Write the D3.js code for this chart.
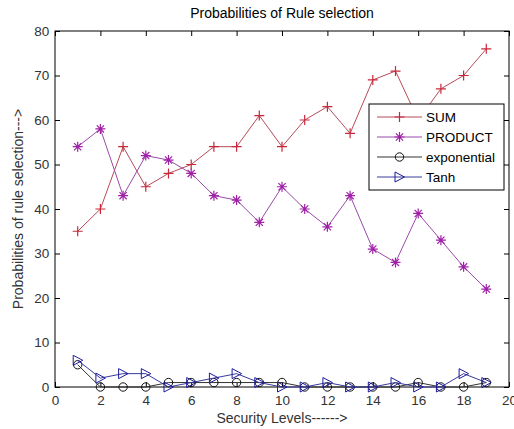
<!DOCTYPE html>
<html><head><meta charset="utf-8">
<script src="https://cdn.jsdelivr.net/npm/d3@7"></script>
<style>body{margin:0;background:#fff;} text{font-family:"Liberation Sans",Arial,sans-serif;}</style>
</head><body>
<svg id="c" width="514" height="429"></svg>
<script>
const levels = [1,2,3,4,5,6,7,8,9,10,11,12,13,14,15,16,17,18,19];
const sumVals = [35,40,54,45,48,50,54,54,61,54,60,63,57,69,71,60,67,70,76];
const productVals = [54,58,43,52,51,48,43,42,37,45,40,36,43,31,28,39,33,27,22];
const expVals = [5,0,0,0,1,1,1,1,1,1,0,0,0,0,0,1,0,0,1];
const tanhVals = [6,2,3,3,0,1,2,3,1,0,0,1,0,0,1,0,0,3,1];
const xTicks = [0,2,4,6,8,10,12,14,16,18,20];
const yTicks = [0,10,20,30,40,50,60,70,80];
const seriesNames = ["SUM","PRODUCT","exponential","Tanh"];

const svg = d3.select("#c");
const L=55,R=509,T=31,B=387;
const x = d3.scaleLinear().domain([0,20]).range([L,R]);
const y = d3.scaleLinear().domain([0,80]).range([B,T]);
const txt = "#333";
const fs = 13.5;

svg.append("rect").attr("x",L).attr("y",T).attr("width",R-L).attr("height",B-T).attr("fill","#fff").attr("stroke","#000").attr("stroke-width",1);

const tl=5;
const ax = svg.append("g").attr("transform",`translate(0,${B})`).call(d3.axisBottom(x).tickValues(xTicks).tickSize(-tl).tickFormat(d3.format("d")));
ax.select(".domain").remove();
ax.selectAll("text").attr("fill",txt).attr("font-size",fs).attr("dy","1.1em");
const axT = svg.append("g").attr("transform",`translate(0,${T})`).call(d3.axisTop(x).tickValues(xTicks).tickSize(-tl).tickFormat(""));
axT.select(".domain").remove();
const ay = svg.append("g").attr("transform",`translate(${L},0)`).call(d3.axisLeft(y).tickValues(yTicks).tickSize(-tl).tickFormat(d3.format("d")));
ay.select(".domain").remove();
ay.selectAll("text").attr("fill",txt).attr("font-size",fs).attr("dx","-0.2em");
const ayR = svg.append("g").attr("transform",`translate(${R},0)`).call(d3.axisRight(y).tickValues(yTicks).tickSize(-tl).tickFormat(""));
ayR.select(".domain").remove();

const series = [
 {name:seriesNames[0], vals:sumVals, color:"#c8283a", line:"#b84a5a", marker:"plus"},
 {name:seriesNames[1], vals:productVals, color:"#a020a8", line:"#9a4aa8", marker:"star"},
 {name:seriesNames[2], vals:expVals, color:"#111", line:"#333", marker:"circle"},
 {name:seriesNames[3], vals:tanhVals, color:"#1c1c9c", line:"#3a3a9c", marker:"tri"}
];

function drawMarker(g, type, cx, cy, color){
  const s=5;
  if(type==="plus"){
    g.append("path").attr("d",`M${cx-s},${cy}H${cx+s}M${cx},${cy-s}V${cy+s}`).attr("stroke",color).attr("stroke-width",1.2).attr("fill","none");
  } else if(type==="star"){
    const d=s*0.72;
    g.append("path").attr("d",`M${cx-s},${cy}H${cx+s}M${cx},${cy-s}V${cy+s}M${cx-d},${cy-d}L${cx+d},${cy+d}M${cx-d},${cy+d}L${cx+d},${cy-d}`).attr("stroke",color).attr("stroke-width",1.2).attr("fill","none");
  } else if(type==="circle"){
    g.append("circle").attr("cx",cx).attr("cy",cy).attr("r",4.2).attr("stroke",color).attr("stroke-width",1).attr("fill","none");
  } else if(type==="tri"){
    g.append("path").attr("d",`M${cx-4.5},${cy-5}L${cx+5},${cy}L${cx-4.5},${cy+5}Z`).attr("stroke",color).attr("stroke-width",1).attr("fill","none");
  }
}

const line = d3.line().x((d,i)=>x(levels[i])).y(d=>y(d));
series.forEach(s=>{
  svg.append("path").attr("d",line(s.vals)).attr("fill","none").attr("stroke",s.line).attr("stroke-width",1);
  const g=svg.append("g");
  s.vals.forEach((v,i)=>drawMarker(g,s.marker,x(levels[i]),y(v),s.color));
});

// legend
const lg = svg.append("g");
lg.append("rect").attr("x",369).attr("y",104).attr("width",135).attr("height",86).attr("fill","#fff").attr("stroke","#000").attr("stroke-width",1);
series.forEach((s,i)=>{
  const yy=117+i*20;
  lg.append("line").attr("x1",377).attr("x2",422).attr("y1",yy).attr("y2",yy).attr("stroke",s.line).attr("stroke-width",1);
  drawMarker(lg,s.marker,399.5,yy,s.color);
  lg.append("text").attr("x",426).attr("y",yy).attr("dy","0.36em").attr("font-size",fs).attr("fill","#000").text(s.name);
});

svg.append("text").attr("x",(L+R)/2).attr("y",18).attr("text-anchor","middle").attr("font-size",14).attr("fill","#000").text("Probabilities of Rule selection");
svg.append("text").attr("x",(L+R)/2).attr("y",423).attr("text-anchor","middle").attr("font-size",14).attr("fill",txt).text("Security Levels------>");
svg.append("text").attr("transform",`translate(23,${(T+B)/2}) rotate(-90)`).attr("text-anchor","middle").attr("font-size",14).attr("fill",txt).text("Probabilities of rule selection--->");
</script>
</body></html>
